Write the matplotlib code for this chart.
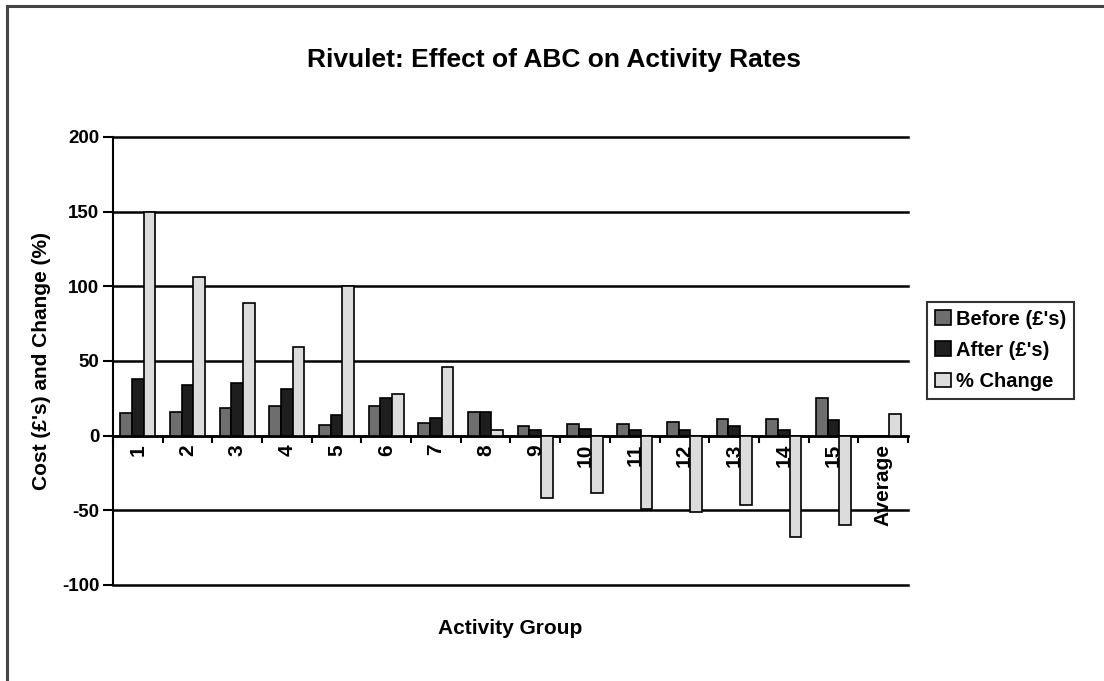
import numpy as np
import matplotlib.pyplot as plt
from matplotlib.lines import Line2D

plt.rcParams['font.family'] = ['Liberation Sans', 'DejaVu Sans']
plt.rcParams['font.weight'] = 'bold'
plt.rcParams['axes.unicode_minus'] = False

groups = [str(i) for i in range(1, 16)] + ['Average']
before = [15, 16, 18.5, 19.5, 7, 19.5, 8.3, 15.8, 6.7, 8, 8, 9.3, 11.3, 11.3, 25.5, 0]
after = [38, 34, 35, 31, 14, 25, 11.7, 15.8, 3.8, 4.7, 4, 4, 6.2, 3.8, 10.4, 0]
change = [150, 106, 88.5, 59, 100, 28, 46, 3.8, -42, -38.5, -49, -51, -46.5, -68, -60, 14.6]

fig = plt.figure(figsize=(11.04, 6.81), dpi=100)
ax = fig.add_axes([0.1024, 0.141, 0.72, 0.658])

x = np.arange(len(groups))
w = 0.235
ax.bar(x - w, before, w, color='#6e6e6e', edgecolor='black', linewidth=1.2, label="Before (£'s)", zorder=3)
ax.bar(x, after, w, color='#1e1e1e', edgecolor='black', linewidth=1.2, label="After (£'s)", zorder=3)
ax.bar(x + w, change, w, color='#dcdcdc', edgecolor='black', linewidth=1.2, label='% Change', zorder=3)

ax.set_xlim(-0.5, len(groups) - 0.5)
ax.set_ylim(-100, 200)
ax.set_yticks(range(-100, 201, 50))
ax.yaxis.grid(True, color='black', linewidth=1.8, zorder=0)
for gl in ax.get_ygridlines():
    gl.set_clip_on(False)
ax.set_axisbelow(True)

for s in ['top', 'right']:
    ax.spines[s].set_visible(False)
ax.spines['left'].set_linewidth(1.5)
ax.spines['bottom'].set_position(('data', 0))
ax.spines['bottom'].set_linewidth(1.8)

# category labels sit under the zero line, tick marks between groups
ax.set_xticks(x)
ax.set_xticklabels(groups, rotation=90, fontsize=15, fontweight='bold', va='top')
ax.tick_params(axis='x', which='major', length=0, pad=6)
ax.set_xticks(np.arange(-0.5, len(groups), 1), minor=True)
ax.tick_params(axis='x', which='minor', length=5, width=1.5, direction='out')
ax.tick_params(axis='y', length=7, width=1.5, labelsize=13.5, pad=3)
for t in ax.get_yticklabels():
    t.set_fontweight('bold')

ax.set_ylabel("Cost (£'s) and Change (%)", fontsize=15, fontweight='bold', labelpad=8)
ax.set_xlabel('Activity Group', fontsize=15, fontweight='bold')
ax.xaxis.set_label_coords(0.5, -0.075)

fig.text(0.502, 0.912, 'Rivulet: Effect of ABC on Activity Rates', ha='center', va='center',
         fontsize=19, fontweight='bold')

fig.legend(loc='upper left', bbox_to_anchor=(0.84, 0.557), fontsize=14.5, frameon=True,
           fancybox=False, edgecolor='black', handlelength=0.75, handleheight=0.75,
           handletextpad=0.25, borderpad=0.4, labelspacing=0.6, borderaxespad=0)
leg = fig.legends[0]
leg.get_frame().set_linewidth(1.5)

# outer chart frame (left and top edges)
fig.add_artist(Line2D([0.0065, 0.0065], [0, 0.991], color='#444444', linewidth=2.2, transform=fig.transFigure))
fig.add_artist(Line2D([0.0065, 1], [0.991, 0.991], color='#444444', linewidth=2.2, transform=fig.transFigure))

fig.savefig('out.png', dpi=100)
